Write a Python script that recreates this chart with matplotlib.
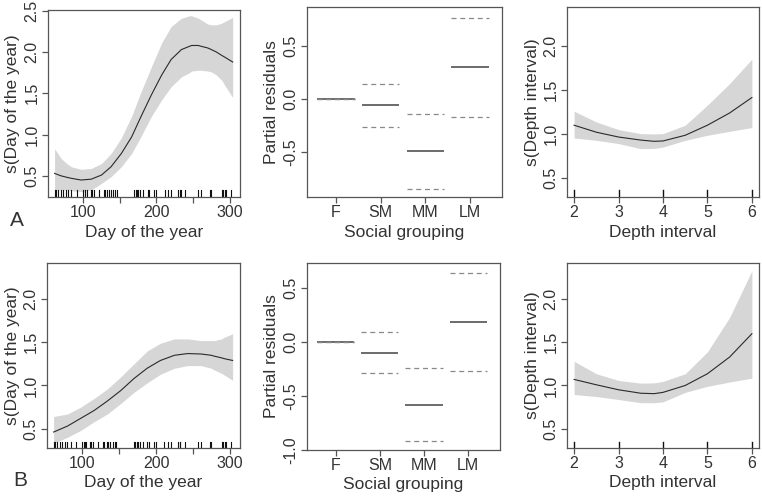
import numpy as np
import matplotlib
matplotlib.use("Agg")
import matplotlib.pyplot as plt

plt.rcParams['font.family'] = ['Liberation Sans', 'DejaVu Sans']

# ------------------------------------------------------------
# Datos
# ------------------------------------------------------------
# Panel A, día del año
dias_A = [61, 70, 79, 84, 97, 111, 125, 138, 152, 166, 179, 193, 207, 220, 234,
          245, 248, 257, 261, 270, 275, 282, 289, 293, 304]
dia_A = [0.53, 0.50, 0.48, 0.47, 0.45, 0.46, 0.51, 0.61, 0.77, 0.97, 1.22, 1.48,
         1.72, 1.91, 2.03, 2.07, 2.08, 2.08, 2.07, 2.05, 2.03, 2.00, 1.96, 1.94, 1.88]
dia_A_sup = [0.83, 0.71, 0.64, 0.61, 0.58, 0.59, 0.65, 0.77, 0.96, 1.22, 1.52, 1.82,
             2.11, 2.31, 2.41, 2.44, 2.44, 2.41, 2.39, 2.34, 2.33, 2.33, 2.35, 2.37, 2.42]
dia_A_inf = [0.33, 0.33, 0.33, 0.32, 0.31, 0.33, 0.41, 0.49, 0.61, 0.77, 0.98, 1.22,
             1.42, 1.58, 1.70, 1.75, 1.77, 1.78, 1.78, 1.77, 1.76, 1.72, 1.66, 1.60, 1.45]

# Panel B, día del año
dias_B = [61, 80, 98, 116, 134, 152, 170, 188, 206, 225, 243, 261, 275, 279, 289, 293, 304]
dia_B = [0.46, 0.53, 0.62, 0.71, 0.82, 0.94, 1.08, 1.20, 1.29, 1.35, 1.37, 1.365,
         1.35, 1.34, 1.32, 1.31, 1.29]
dia_B_sup = [0.64, 0.67, 0.75, 0.85, 0.96, 1.10, 1.25, 1.40, 1.49, 1.54, 1.54, 1.52,
             1.52, 1.52, 1.54, 1.56, 1.60]
dia_B_inf = [0.33, 0.40, 0.48, 0.58, 0.67, 0.79, 0.92, 1.03, 1.13, 1.20, 1.23, 1.23,
             1.20, 1.18, 1.14, 1.12, 1.06]

rug_dias = [61, 63, 66, 70, 73, 76, 79, 84, 92, 100, 102, 103, 105, 110, 112, 115,
            121, 128, 130, 133, 135, 138, 141, 144, 146, 170, 172, 174, 175, 178,
            182, 188, 190, 197, 200, 211, 216, 220, 230, 232, 233, 239, 257, 261,
            273, 275, 289, 291, 293, 295, 302]

grupos = ["F", "SM", "MM", "LM"]
grupo_A = [0.0, -0.057, -0.487, 0.304]
grupo_A_sup = [0.0, 0.146, -0.139, 0.769]
grupo_A_inf = [0.0, -0.26, -0.845, -0.165]
grupo_B = [0.0, -0.098, -0.58, 0.187]
grupo_B_sup = [0.0, 0.095, -0.242, 0.638]
grupo_B_inf = [0.0, -0.29, -0.92, -0.267]

prof = [2, 2.5, 3, 3.5, 3.8, 4, 4.5, 5, 5.5, 6]
prof_A = [1.10, 1.02, 0.965, 0.93, 0.916, 0.92, 0.985, 1.10, 1.24, 1.416]
prof_A_sup = [1.26, 1.137, 1.05, 1.004, 1.0, 1.004, 1.10, 1.33, 1.576, 1.855]
prof_A_inf = [0.954, 0.927, 0.89, 0.832, 0.835, 0.85, 0.927, 0.985, 1.03, 1.073]
prof_B = [1.07, 1.008, 0.95, 0.91, 0.905, 0.92, 1.0, 1.136, 1.33, 1.60]
prof_B_sup = [1.28, 1.136, 1.058, 1.027, 1.03, 1.047, 1.136, 1.39, 1.79, 2.33]
prof_B_inf = [0.895, 0.872, 0.837, 0.80, 0.80, 0.81, 0.92, 0.99, 1.04, 1.085]
rug_prof = [2, 3, 4, 5, 6]

W, H = 762, 496
TXT = "#333333"
BOX = "#555555"
BANDA = "#d6d6d6"

fig = plt.figure(figsize=(W / 100, H / 100), dpi=100)


def caja(x0, y0, x1, y1):
    """Crea unos ejes a partir de la caja en píxeles (origen arriba a la izquierda)."""
    ax = fig.add_axes([x0 / W, 1 - y1 / H, (x1 - x0) / W, (y1 - y0) / H])
    for s in ax.spines.values():
        s.set_color(BOX)
        s.set_linewidth(0.9)
    ax.tick_params(direction="out", length=4, width=0.9, colors=BOX,
                   labelcolor=TXT, labelsize=11.5, pad=2)
    return ax


def estilo_y(ax, ticks):
    ax.set_yticks(ticks)
    ax.set_yticklabels([f"{t:.1f}" for t in ticks], rotation=90, va="center")


def panel_dia(ax, x, fit, sup, inf, ylim, yticks):
    ax.fill_between(x, inf, sup, color=BANDA, lw=0)
    ax.plot(x, fit, color="#2a2a2a", lw=0.8)
    for d in rug_dias:
        ax.axvline(d, ymin=0, ymax=0.035, color="#111111", lw=0.8)
    ax.set_xlim(52, 314)
    ax.set_ylim(*ylim)
    ax.set_xticks([100, 150, 200, 250, 300])
    ax.set_xticklabels(["100", "", "200", "", "300"])
    estilo_y(ax, yticks)
    ax.set_xlabel("Day of the year", fontsize=12.5, color=TXT, labelpad=3)
    ax.set_ylabel("s(Day of the year)", fontsize=12.5, color=TXT, labelpad=3)


def panel_grupo(ax, fit, sup, inf, ylim, yticks):
    xs = np.arange(1, len(grupos) + 1)
    ax.hlines(fit, xs - 0.42, xs + 0.42, color="#444444", lw=1.1)
    ax.hlines(sup, xs - 0.42, xs + 0.42, color="#888888", lw=0.9, linestyles=(0, (4, 3)))
    ax.hlines(inf, xs - 0.42, xs + 0.42, color="#888888", lw=0.9, linestyles=(0, (4, 3)))
    ax.set_xlim(0.35, 4.72)
    ax.set_ylim(*ylim)
    ax.set_xticks(xs)
    ax.set_xticklabels(grupos)
    estilo_y(ax, yticks)
    ax.set_xlabel("Social grouping", fontsize=12.5, color=TXT, labelpad=3)
    ax.set_ylabel("Partial residuals", fontsize=12.5, color=TXT, labelpad=3)


def panel_prof(ax, fit, sup, inf, ylim, yticks):
    ax.fill_between(prof, inf, sup, color=BANDA, lw=0)
    ax.plot(prof, fit, color="#2a2a2a", lw=0.8)
    for d in rug_prof:
        ax.axvline(d, ymin=0, ymax=0.035, color="#111111", lw=1.0)
    ax.set_xlim(1.84, 6.16)
    ax.set_ylim(*ylim)
    ax.set_xticks([2, 3, 4, 5, 6])
    estilo_y(ax, yticks)
    ax.set_xlabel("Depth interval", fontsize=12.5, color=TXT, labelpad=3)
    ax.set_ylabel("s(Depth interval)", fontsize=12.5, color=TXT, labelpad=3)


# Fila A
ax = caja(48, 10, 240, 197)
panel_dia(ax, dias_A, dia_A, dia_A_sup, dia_A_inf, (0.244, 2.51), [0.5, 1.0, 1.5, 2.0, 2.5])
ax = caja(307, 7, 502, 197)
panel_grupo(ax, grupo_A, grupo_A_sup, grupo_A_inf, (-0.92, 0.87), [-0.5, 0.0, 0.5])
ax = caja(567, 7, 759, 197)
panel_prof(ax, prof_A, prof_A_sup, prof_A_inf, (0.28, 2.45), [0.5, 1.0, 1.5, 2.0])

# Fila B
ax = caja(47, 263, 240, 448)
panel_dia(ax, dias_B, dia_B, dia_B_sup, dia_B_inf, (0.275, 2.42), [0.5, 1.0, 1.5, 2.0])
ax = caja(307, 263, 500, 450)
panel_grupo(ax, grupo_B, grupo_B_sup, grupo_B_inf, (-0.99, 0.73), [-1.0, -0.5, 0.0, 0.5])
ax = caja(567, 263, 759, 448)
panel_prof(ax, prof_B, prof_B_sup, prof_B_inf, (0.275, 2.42), [0.5, 1.0, 1.5, 2.0])

fig.text(17 / W, 1 - 220 / H, "A", fontsize=15, color=TXT, ha="center", va="center")
fig.text(20 / W, 1 - 481 / H, "B", fontsize=15, color=TXT, ha="center", va="center")

fig.savefig("out.png", dpi=100)
